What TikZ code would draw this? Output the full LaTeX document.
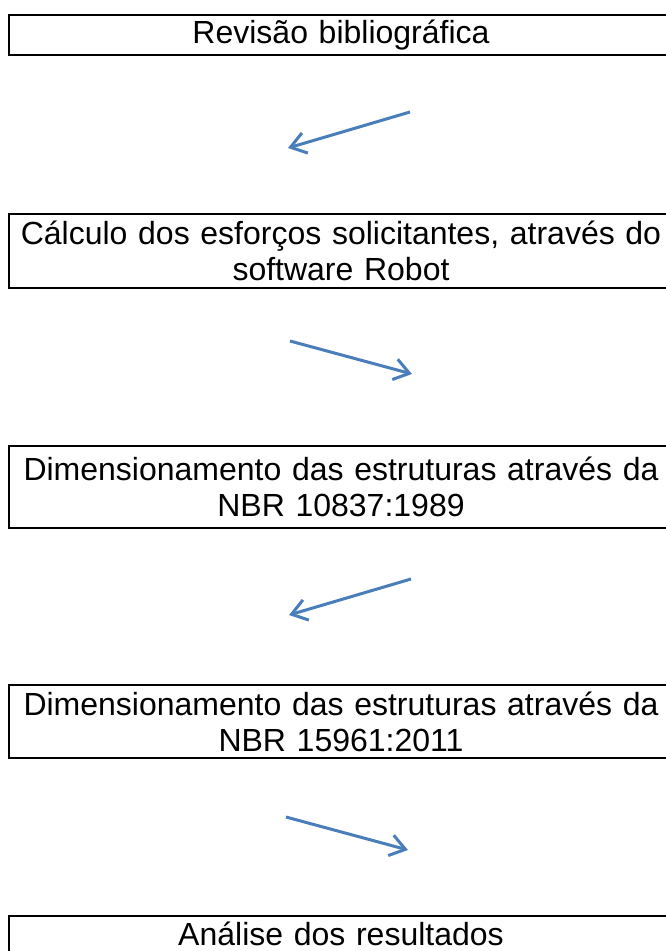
\documentclass[tikz,border=0pt]{standalone}
\usepackage{fontspec}
\setmainfont{Liberation Sans}
\usetikzlibrary{arrows.meta}
\definecolor{arrowblue}{RGB}{74,126,187}
\begin{document}
\begin{tikzpicture}[x=1pt,y=-1pt,
  stage/.style={draw,line width=2pt,anchor=north west,minimum width=664pt,
    text width=650pt,align=center,inner sep=0pt,
    font=\fontsize{32}{36}\selectfont},
  flow/.style={-{Straight Barb[length=15pt,width=21pt]},arrowblue,line width=3pt}]
\useasboundingbox (0,0) rectangle (666,951);
\node [stage,minimum height=40pt] (rev) at (8,14) {Revisão bibliográfica};
\node [stage,minimum height=74pt] (calc) at (8,213) {Cálculo dos esforços solicitantes, através do\\software Robot};
\node [stage,minimum height=82pt] (nbra) at (8,445) {Dimensionamento das estruturas através da\\NBR 10837:1989};
\node [stage,minimum height=73pt] (nbrb) at (8,684) {Dimensionamento das estruturas através da\\NBR 15961:2011};
\node [stage,text height=29pt,text depth=24pt] (anal) at (8,915) {Análise dos resultados};
\coordinate (s1) at (410,112); \coordinate (e1) at (288,148);
\coordinate (s2) at (290,341); \coordinate (e2) at (412,374);
\coordinate (s3) at (411,579); \coordinate (e3) at (289,615);
\coordinate (s4) at (286,817); \coordinate (e4) at (408,850);
\draw [flow] (s1) -- (e1);
\draw [flow] (s2) -- (e2);
\draw [flow] (s3) -- (e3);
\draw [flow] (s4) -- (e4);
\end{tikzpicture}
\end{document}
